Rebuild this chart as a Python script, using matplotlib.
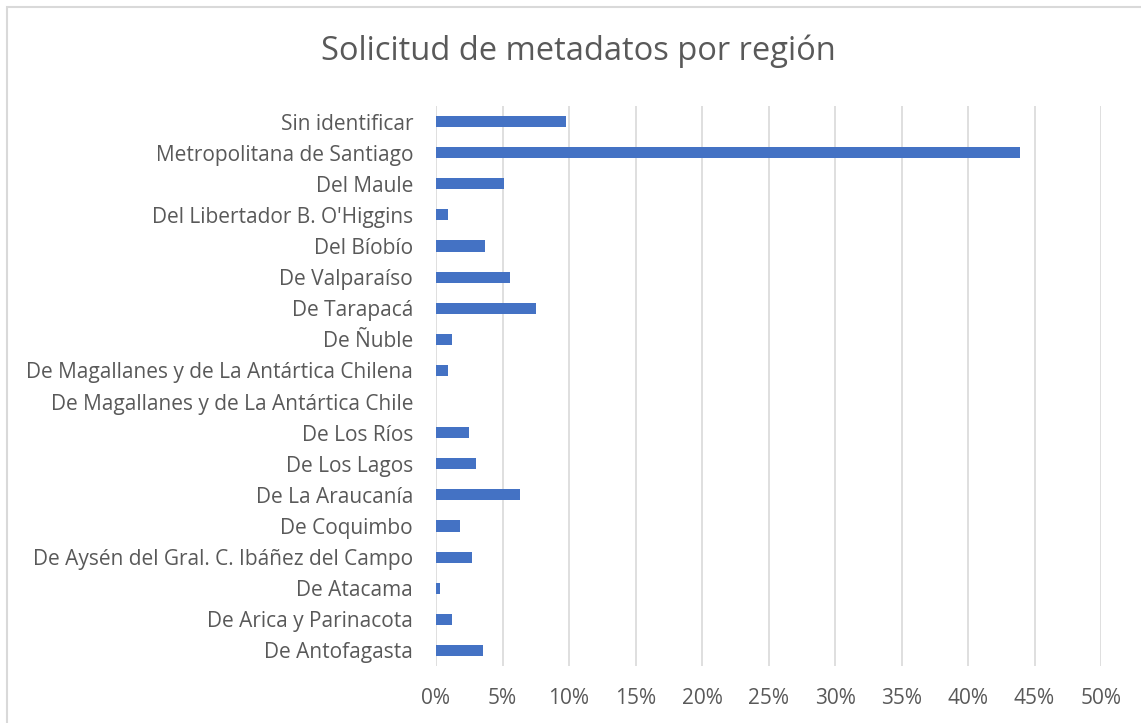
import matplotlib.pyplot as plt
from matplotlib.patches import Rectangle
from matplotlib.ticker import PercentFormatter, MultipleLocator

# regiones (de arriba hacia abajo, como en el grafico)
regiones = ["Sin identificar", "Metropolitana de Santiago", "Del Maule",
            "Del Libertador B. O'Higgins", "Del Bíobío", "De Valparaíso",
            "De Tarapacá", "De Ñuble", "De Magallanes y de La Antártica Chilena",
            "De Magallanes y de La Antártica Chile", "De Los Ríos", "De Los Lagos",
            "De La Araucanía", "De Coquimbo", "De Aysén del Gral. C. Ibáñez del Campo",
            "De Atacama", "De Arica y Parinacota", "De Antofagasta"]
porcentaje = [0.098, 0.439, 0.051, 0.009, 0.037, 0.056, 0.075, 0.012, 0.009,
              0.0, 0.025, 0.030, 0.063, 0.018, 0.027, 0.003, 0.012, 0.035]

gris = '#595959'
plt.rcParams['font.family'] = ['Open Sans', 'DejaVu Sans']

fig = plt.figure(figsize=(11.41, 7.23), dpi=100)
ax = fig.add_axes([436 / 1141, 57 / 723, 665 / 1141, 560 / 723])

y = list(range(len(regiones)))
ax.barh(y, porcentaje, height=0.36, color='#4472C4', zorder=3)
ax.set_ylim(len(regiones) - 0.5, -0.5)
ax.set_xlim(0, 0.5)
ax.set_yticks(y)
ax.set_yticklabels(regiones)
ax.xaxis.set_major_locator(MultipleLocator(0.05))
ax.xaxis.set_major_formatter(PercentFormatter(1.0, decimals=0))
ax.tick_params(axis='both', length=0, labelsize=15, colors=gris)
ax.tick_params(axis='y', pad=16.5)
ax.tick_params(axis='x', pad=16)
ax.grid(axis='x', color='#d9d9d9', linewidth=1.2, zorder=0)
for s in ax.spines.values():
    s.set_visible(False)

fig.text(578 / 1141, 1 - 51 / 723, 'Solicitud de metadatos por región',
         ha='center', va='center', fontsize=23.5, color=gris)

# borde del grafico
fig.patches.append(Rectangle((7 / 1141, -0.1), 1.2, 1 - 7 / 723 + 0.1,
                             transform=fig.transFigure, fill=False,
                             edgecolor='#d9d9d9', linewidth=1.5))

fig.savefig('out.png', dpi=100)
